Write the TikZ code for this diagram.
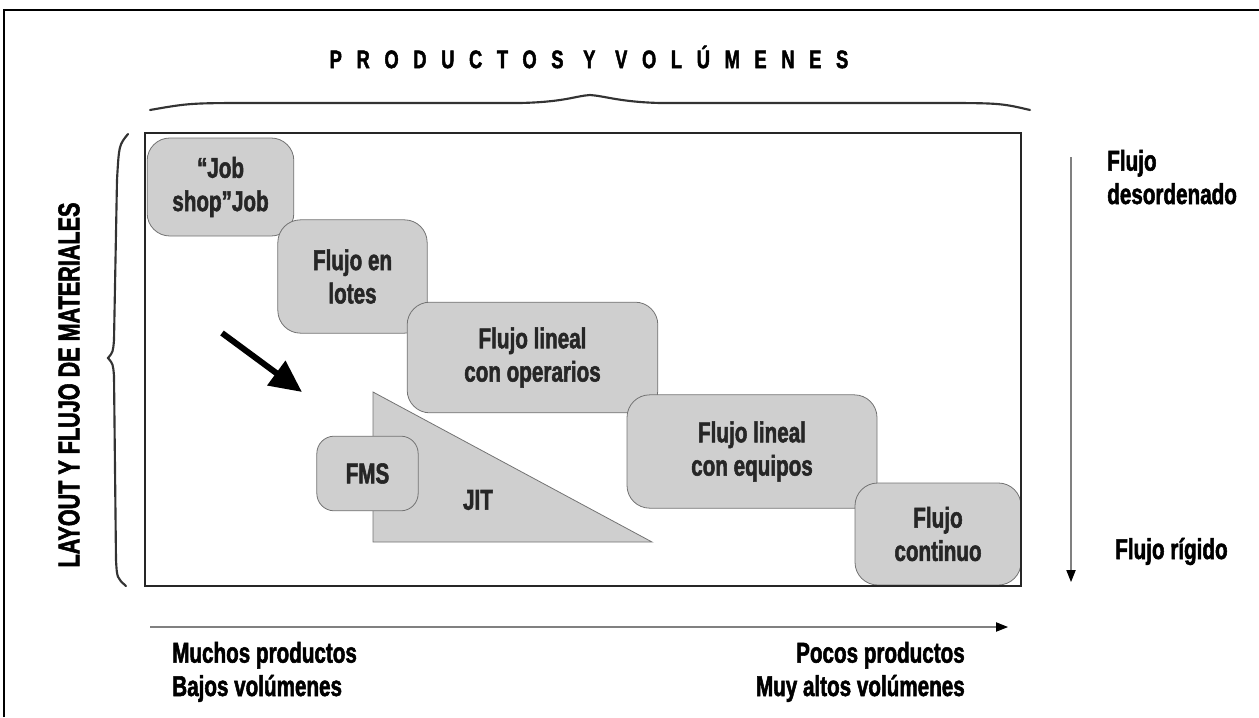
\documentclass[tikz,border=0pt]{standalone}
\usepackage{fontspec}
\setmainfont{Liberation Sans}[FakeStretch=0.72, BoldFont={Liberation Sans Bold}, BoldFeatures={FakeBold=1.8}]
\usepackage{tikz}
\usetikzlibrary{arrows.meta}

\begin{document}
\begin{tikzpicture}[x=0.75pt, y=-0.75pt, >=Triangle,
    caja/.style={draw=black!55, fill=black!19, rounded corners=17pt, line width=0.6pt,
                 align=center, inner sep=0pt},
    etiq/.style={font=\bfseries\fontsize{21.5}{25}\selectfont, text=black!85},
    rotulo/.style={etiq, text=black, inner sep=0pt},
    llave/.style={line width=1.6pt, black!80, line cap=round},
    flecha/.style={gray, line width=0.8pt, -{Triangle[color=black, length=9pt, width=7pt]}}]
    \useasboundingbox (0,0) rectangle (1259,717);

    % marco exterior
    \draw[line width=1.5pt] (4,717) -- (4,10) -- (1259,10);

    % titulo y llaves
    \node[font=\bfseries\fontsize{19}{22}\selectfont\addfontfeature{LetterSpace=58}] (titulo) at (589,57) {PRODUCTOS Y VOLÚMENES};
    \draw[llave] (150,110) .. controls (190,103) .. (260,103) -- (520,103)
        .. controls (565,102) and (575,96) .. (590,95)
        .. controls (605,96) and (620,102) .. (660,103) -- (930,103)
        .. controls (1000,103) .. (1030,110);
    \draw[llave] (128,134) .. controls (119,145) .. (117,180) -- (114,340)
        .. controls (113,352) .. (108,358) .. controls (113,364) .. (114,376)
        -- (116,560) .. controls (117,578) .. (126,586);
    \node[rotulo, rotate=90, font=\bfseries\fontsize{22.5}{25}\selectfont] (layout) at (69,385) {LAYOUT Y FLUJO DE MATERIALES};

    % cajas
    \node[caja, etiq, minimum width=110pt, minimum height=73.5pt] (job) at (220.5,187) {“Job\\shop”Job};
    \node[caja, etiq, minimum width=112pt, minimum height=85pt] (lotes) at (352.5,276.5) {Flujo en\\lotes};
    \node[caja, etiq, minimum width=188pt, minimum height=83pt] (operarios) at (532.5,357.5) {Flujo lineal\\con operarios};
    \node[caja, etiq, minimum width=187.5pt, minimum height=85pt] (equipos) at (752,451.5) {Flujo lineal\\con equipos};
    \node[caja, etiq, minimum width=124.5pt, minimum height=76.5pt] (continuo) at (938,534) {Flujo\\continuo};

    % triangulo JIT y FMS
    \draw[draw=black!55, fill=black!19, line width=0.6pt] (373,392) -- (373,542) -- (652,542) -- cycle;
    \node[etiq] (jit) at (478,500) {JIT};
    \node[caja, etiq, rounded corners=13pt, minimum width=76pt, minimum height=56pt] (fms) at (367.5,473.5) {FMS};

    % rectangulo principal
    \draw[line width=2.2pt, black!85] (145,133) rectangle (1021,586);

    % flecha gruesa
    \coordinate (g0) at (222,333);
    \coordinate (g1) at (302,392);
    \draw[line width=4.5pt, -{Triangle[length=24pt, width=22pt]}] (g0) -- (g1);

    % flecha vertical
    \coordinate (v0) at (1071,157);
    \coordinate (v1) at (1071,582);
    \draw[flecha] (v0) -- (v1);
    \node[rotulo, anchor=base west, align=left] (desord) at (1107,204) {Flujo\\desordenado};
    \node[rotulo, anchor=base west] (rigido) at (1115,559) {Flujo rígido};

    % flecha horizontal
    \coordinate (h0) at (150,627);
    \coordinate (h1) at (1008,627);
    \draw[flecha] (h0) -- (h1);
    \node[rotulo, anchor=base west, align=left] (muchos) at (172,696) {Muchos productos\\Bajos volúmenes};
    \node[rotulo, anchor=base east, align=right] (pocos) at (965,696) {Pocos productos\\Muy altos volúmenes};
\end{tikzpicture}
\end{document}
